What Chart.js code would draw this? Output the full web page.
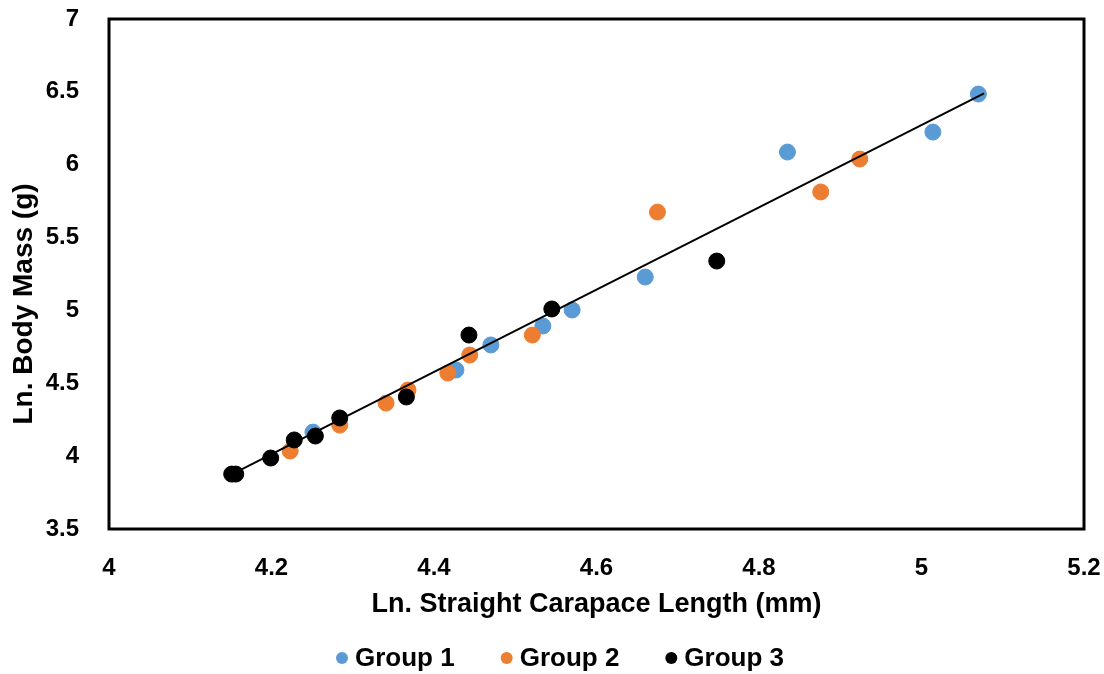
<!DOCTYPE html>
<html>
<head>
<meta charset="utf-8">
<script src="https://cdn.jsdelivr.net/npm/chart.js@4"></script>
<style>
  html, body { margin: 0; padding: 0; background: #fff; }
  #wrap { width: 1104px; height: 674px; }
</style>
</head>
<body>
<div id="wrap"><canvas id="grafico" width="1104" height="674"></canvas></div>
<script>
// dados
const grupo1X = [5.070, 5.014, 4.835, 4.660, 4.570, 4.534, 4.470, 4.427, 4.251];
const grupo1Y = [6.485, 6.224, 6.087, 5.229, 5.003, 4.893, 4.763, 4.591, 4.165];

const grupo2X = [4.924, 4.876, 4.675, 4.521, 4.444, 4.417, 4.368, 4.341, 4.284, 4.223];
const grupo2Y = [6.039, 5.813, 5.675, 4.831, 4.694, 4.570, 4.454, 4.364, 4.213, 4.035];

const grupo3X = [4.748, 4.545, 4.443, 4.366, 4.284, 4.254, 4.228, 4.199, 4.156, 4.151];
const grupo3Y = [5.339, 5.010, 4.831, 4.406, 4.262, 4.138, 4.111, 3.987, 3.877, 3.877];

// linha de tendência (extremos)
const tendenciaX = [4.151, 5.077];
const tendenciaY = [3.875, 6.49];

const nomesGrupos = ['Group 1', 'Group 2', 'Group 3'];
const tituloY = 'Ln. Body Mass (g)';
const tituloX = 'Ln. Straight Carapace Length (mm)';

function pontos(xs, ys) {
    return xs.map((x, i) => ({ x: x, y: ys[i] }));
}

function formatar(v) {
    return String(Number(v.toFixed(1)));
}

const fonte = 'Liberation Sans, Arial, sans-serif';

// moldura em volta da área do gráfico + título do eixo Y
const moldura = {
    id: 'moldura',
    afterDatasetsDraw(chart) {
        const a = chart.chartArea;
        const ctx = chart.ctx;
        ctx.save();
        ctx.strokeStyle = '#000';
        ctx.lineWidth = 3;
        ctx.strokeRect(a.left, a.top, a.right - a.left, a.bottom - a.top);
        ctx.restore();

        ctx.save();
        ctx.translate(24, 304);
        ctx.rotate(-Math.PI / 2);
        ctx.font = 'bold 28px ' + fonte;
        ctx.fillStyle = '#000';
        ctx.textAlign = 'center';
        ctx.textBaseline = 'middle';
        ctx.fillText(tituloY, 0, 0);
        ctx.restore();
    }
};

// legenda desenhada embaixo, na ordem dos grupos
const legenda = {
    id: 'legenda',
    afterDraw(chart) {
        const ctx = chart.ctx;
        const itens = chart.data.datasets.filter(d => nomesGrupos.includes(d.label));
        ctx.save();
        ctx.font = 'bold 26px ' + fonte;
        ctx.textBaseline = 'middle';
        const espaco = 46;
        let total = 0;
        itens.forEach((d, i) => {
            total += 19 + ctx.measureText(d.label).width + (i > 0 ? espaco : 0);
        });
        let x = 560 - total / 2;
        const y = 658;
        itens.forEach(d => {
            ctx.fillStyle = d.backgroundColor;
            ctx.beginPath();
            ctx.arc(x + 6, y, 6, 0, Math.PI * 2);
            ctx.fill();
            ctx.fillStyle = '#000';
            ctx.fillText(d.label, x + 19, y + 1);
            x += 19 + ctx.measureText(d.label).width + espaco;
        });
        ctx.restore();
    }
};

const ctx = document.getElementById('grafico').getContext('2d');
new Chart(ctx, {
    type: 'scatter',
    data: {
        datasets: [
            {
                label: 'Tendência',
                type: 'line',
                data: pontos(tendenciaX, tendenciaY),
                borderColor: '#000',
                borderWidth: 2,
                pointRadius: 0,
                fill: false,
                order: 0
            },
            {
                label: nomesGrupos[0],
                data: pontos(grupo1X, grupo1Y),
                backgroundColor: '#5B9BD5',
                borderColor: '#5B9BD5',
                pointRadius: 8,
                order: 3
            },
            {
                label: nomesGrupos[1],
                data: pontos(grupo2X, grupo2Y),
                backgroundColor: '#ED7D31',
                borderColor: '#ED7D31',
                pointRadius: 8,
                order: 2
            },
            {
                label: nomesGrupos[2],
                data: pontos(grupo3X, grupo3Y),
                backgroundColor: '#000000',
                borderColor: '#000000',
                pointRadius: 8,
                order: 1
            }
        ]
    },
    options: {
        responsive: false,
        animation: false,
        layout: { padding: { left: 0, right: 20, top: 19, bottom: 53 } },
        plugins: {
            legend: { display: false },
            tooltip: { enabled: false }
        },
        scales: {
            x: {
                type: 'linear',
                min: 4,
                max: 5.2,
                ticks: {
                    stepSize: 0.2,
                    color: '#000',
                    padding: 17,
                    font: { family: fonte, size: 24, weight: 'bold' },
                    callback: formatar
                },
                grid: { display: false },
                border: { display: false },
                title: {
                    display: true,
                    text: tituloX,
                    color: '#000',
                    font: { family: fonte, size: 27, weight: 'bold' },
                    padding: { top: 0, bottom: 0 }
                },
                afterFit: (s) => {
                    s.height = 92;
                    s.paddingLeft = 0;
                    s.paddingRight = 0;
                }
            },
            y: {
                type: 'linear',
                min: 3.5,
                max: 7,
                ticks: {
                    stepSize: 0.5,
                    color: '#000',
                    padding: 22,
                    font: { family: fonte, size: 24, weight: 'bold' },
                    callback: formatar
                },
                grid: { display: false },
                border: { display: false },
                afterFit: (s) => {
                    s.width = 109;
                    s.paddingTop = 0;
                    s.paddingBottom = 0;
                }
            }
        }
    },
    plugins: [moldura, legenda]
});
</script>
</body>
</html>
